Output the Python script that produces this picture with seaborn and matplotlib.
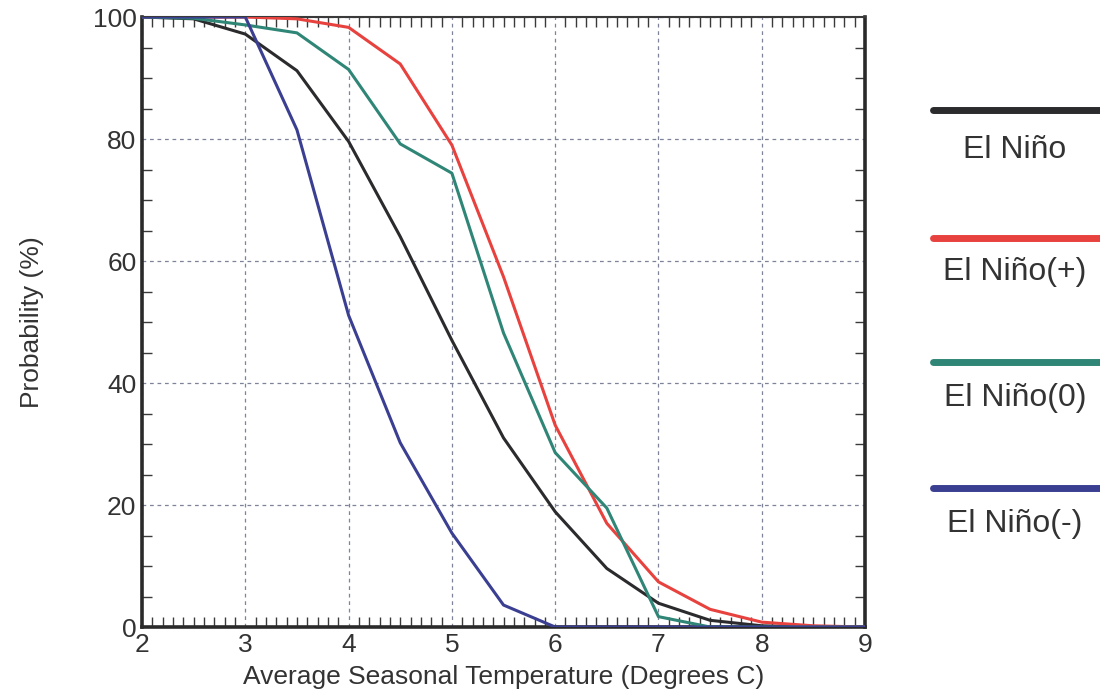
import seaborn as sns
import pandas as pd
import matplotlib.pyplot as plt
from matplotlib.lines import Line2D
from matplotlib.ticker import MultipleLocator

# data (x in 0.5 degree steps)
temps = [2, 2.5, 3, 3.5, 4, 4.5, 5, 5.5, 6, 6.5, 7, 7.5, 8, 8.5, 9]
nino = [100, 99.7, 97.2, 91.2, 79.6, 64, 47, 31, 18.9, 9.6, 3.9, 1.1, 0.2, 0, 0]
nino_pos = [100, 100, 100, 99.7, 98.3, 92.3, 79, 57.4, 33.1, 17, 7.4, 2.9, 0.8, 0.2, 0]
nino_zero = [100, 99.8, 98.7, 97.4, 91.4, 79.2, 74.4, 48.2, 28.6, 19.5, 1.7, 0, 0, 0, 0]
nino_neg = [100, 100, 100, 81.5, 51.1, 30.2, 15.4, 3.6, 0, 0, 0, 0, 0, 0, 0]

series_names = ["El Niño", "El Niño(+)", "El Niño(0)", "El Niño(-)"]
series_colors = ["#2b2b2e", "#e8423f", "#2f8676", "#3b3f92"]

df = pd.DataFrame({
    "temp": temps * 4,
    "prob": nino + nino_pos + nino_zero + nino_neg,
    "series": sum([[n] * len(temps) for n in series_names], []),
})

sns.set_style("white")
plt.rcParams['font.family'] = ['Liberation Sans', 'DejaVu Sans']

fig = plt.figure(figsize=(11, 6.97), dpi=100)
ax = fig.add_axes([0.1291, 0.1004, 0.6573, 0.8752])

sns.lineplot(data=df, x="temp", y="prob", hue="series", hue_order=series_names,
             palette=series_colors, linewidth=2.2, legend=False, ax=ax, zorder=3)

ax.set_xlim(2, 9)
ax.set_ylim(0, 100)
ax.xaxis.set_major_locator(MultipleLocator(1))
ax.xaxis.set_minor_locator(MultipleLocator(0.1))
ax.yaxis.set_major_locator(MultipleLocator(20))
ax.yaxis.set_minor_locator(MultipleLocator(5))
ax.tick_params(which="both", direction="in", top=True, right=True, bottom=True, left=True,
               color="#3a3a3a")
ax.tick_params(which="major", length=0, labelsize=19, labelcolor="#333333", pad=4)
ax.tick_params(which="minor", length=7, width=1)
ax.grid(True, which="major", linestyle=(0, (3, 3)), color="#7f8398", linewidth=0.9)

for side in ["left", "bottom", "right"]:
    ax.spines[side].set_linewidth(2.6)
    ax.spines[side].set_color("#2a2a2a")
ax.spines["top"].set_linewidth(1.5)
ax.spines["top"].set_color("#3a3a3a")

ax.set_xlabel("Average Seasonal Temperature (Degrees C)", fontsize=19, color="#333333", labelpad=6)
ax.set_ylabel("Probability (%)", fontsize=19, color="#333333", labelpad=35)

# legend on the right: line with label below
leg_line_y = [110, 238, 362, 488]
leg_text_y = [150, 272, 398, 524]
for name, color, ly, ty in zip(series_names, series_colors, leg_line_y, leg_text_y):
    fig.add_artist(Line2D([933 / 1100, 1.0], [1 - ly / 697, 1 - ly / 697],
                          transform=fig.transFigure, color=color, linewidth=5))
    fig.text(1015 / 1100, 1 - ty / 697, name, ha="center", va="center",
             fontsize=23, color="#333333")

fig.savefig("out.png", dpi=100)
